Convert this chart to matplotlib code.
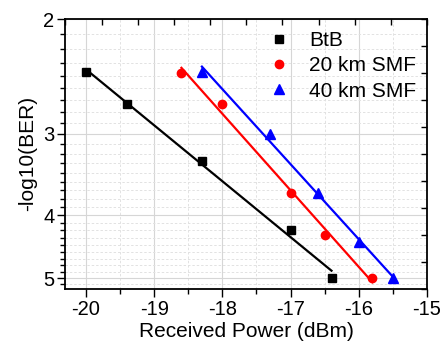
import numpy as np
import matplotlib
matplotlib.use('Agg')
import matplotlib.pyplot as plt
from matplotlib.ticker import FixedLocator, NullFormatter, FixedFormatter, MultipleLocator
from matplotlib.lines import Line2D

plt.rcParams['font.family'] = ['Liberation Sans', 'DejaVu Sans']

# ---- data ----
btb_x = [-20.0, -19.4, -18.3, -17.0, -16.4]
btb_y = [2.41, 2.70, 3.30, 4.22, 5.00]
smf20_x = [-18.6, -18.0, -17.0, -16.5, -15.8]
smf20_y = [2.42, 2.70, 3.70, 4.29, 5.00]
smf40_x = [-18.3, -17.3, -16.6, -16.0, -15.5]
smf40_y = [2.41, 3.00, 3.70, 4.40, 5.00]
series_labels = ['BtB', '20 km SMF', '40 km SMF']
y_ticks = [2, 3, 4, 5]
x_ticks = [-20, -19, -18, -17, -16, -15]

fig = plt.figure(figsize=(4.44, 3.43), dpi=100)
rect = [0.1475, 0.1583, 0.8142, 0.7863]
ax = fig.add_axes(rect)

ax.set_yscale('log')
ax.set_ylim(5.19, 2.0)
ax.set_xlim(-20.3, -15.0)

styles = [('black', 's', 5.2), ('red', 'o', 6.0), ('blue', '^', 6.5)]
data = [(btb_x, btb_y), (smf20_x, smf20_y), (smf40_x, smf40_y)]
handles = []
for (xs, ys), (c, m, ms), lab in zip(data, styles, series_labels):
    xs = np.array(xs); ys = np.array(ys)
    p = np.polyfit(xs, np.log10(ys), 1)
    xf = np.linspace(xs.min(), xs.max(), 50)
    ax.plot(xf, 10 ** np.polyval(p, xf), color=c, lw=1.6, zorder=3)
    ax.plot(xs, ys, ls='none', marker=m, color=c, ms=ms, zorder=4)
    handles.append(Line2D([], [], ls='none', marker=m, color=c, ms=ms, label=lab))

# ticks
ax.yaxis.set_major_locator(FixedLocator(y_ticks))
ax.yaxis.set_major_formatter(FixedFormatter([str(t) for t in y_ticks]))
minor = []
for a in [2, 3, 4, 5]:
    for k in range(1, 9):
        v = a + k / 9
        if v < 5.19:
            minor.append(v)
ax.yaxis.set_minor_locator(FixedLocator(minor))
ax.yaxis.set_minor_formatter(NullFormatter())
ax.xaxis.set_major_locator(FixedLocator(x_ticks))
ax.xaxis.set_major_formatter(FixedFormatter([str(t) for t in x_ticks]))
ax.xaxis.set_minor_locator(MultipleLocator(0.5))

ax.tick_params(which='major', direction='out', length=6, width=1.0, labelsize=14.5, pad=2)
ax.tick_params(which='minor', direction='out', length=3.5, width=1.0)

ax.grid(which='major', color='#d6d6d6', lw=0.8, ls='-')
ax.grid(which='minor', color='#e2e2e2', lw=0.7, ls=(0, (2.5, 2)))
ax.set_axisbelow(True)
for s in ax.spines.values():
    s.set_linewidth(1.3)

ax.set_xlabel('Received Power (dBm)', fontsize=15, labelpad=2)
ax.set_ylabel('-log10(BER)', fontsize=15, labelpad=4)

ax.legend(handles=handles, loc='upper left', bbox_to_anchor=(0.565, 0.955),
          frameon=False, fontsize=15, handlelength=0.9, handletextpad=1.0,
          labelspacing=0.3, borderpad=0, borderaxespad=0)

# top/right decorative ticks
ov = fig.add_axes(rect, frameon=False)
ov.patch.set_visible(False)
ov.set_xlim(0, 10); ov.set_ylim(0, 10)
ov.set_xticks(range(11)); ov.set_yticks(range(11))
ov.tick_params(bottom=False, left=False, top=True, right=True,
               labelbottom=False, labelleft=False, direction='in', length=4, width=1.0)

fig.savefig('out.png', dpi=100)
